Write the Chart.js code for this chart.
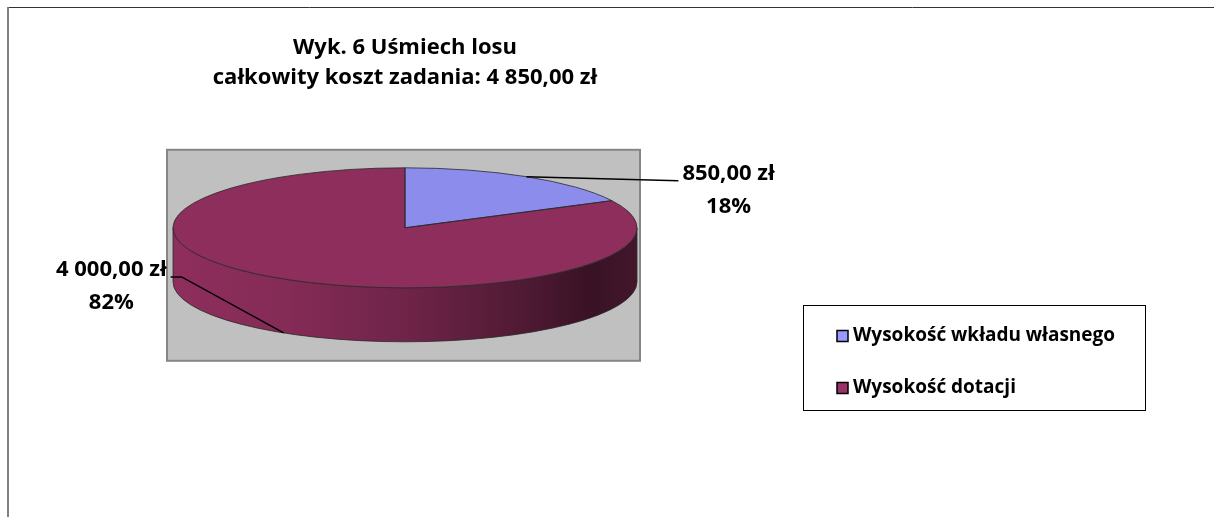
<!DOCTYPE html>
<html>
<head>
<meta charset="utf-8">
<script src="https://cdn.jsdelivr.net/npm/chart.js@4.4.1/dist/chart.umd.min.js"></script>
<style>
    html, body { margin: 0; padding: 0; background: #ffffff; }
    #wrap { width: 1214px; height: 517px; }
</style>
</head>
<body>
<div id="wrap"><canvas id="pieChart"></canvas></div>
<script>
// Data
const chartTitle = ['Wyk. 6 Uśmiech losu', 'całkowity koszt zadania: 4 850,00 zł'];
const categories = ['Wysokość wkładu własnego', 'Wysokość dotacji'];
const amounts = [850, 4000];

// Colours
const topColors = ['#8c8cec', '#8e2e5c'];
const legendColors = ['#9999ff', '#993366'];

// Look of the 3D projection and the labels
const fontFamily = '"Open Sans", "Noto Sans", sans-serif';
const pieRx = 232, pieRy = 60, pieDepth = 54;
const labelElbows = [[152, 4], [-102, -56]];
const labelTails = [0, -11];

// 4000 -> "4 000,00 zł"
const formatZl = (v) => {
    let parts = v.toFixed(2).split('.');
    let intPart = parts[0].replace(/\B(?=(\d{3})+(?!\d))/g, ' ');
    return intPart + ',' + parts[1] + ' zł';
}

const shade = (hex, f) => {
    let r = parseInt(hex.slice(1, 3), 16), g = parseInt(hex.slice(3, 5), 16), b = parseInt(hex.slice(5, 7), 16);
    return 'rgb(' + Math.round(r * f) + ',' + Math.round(g * f) + ',' + Math.round(b * f) + ')';
}

// Frame round the whole picture
const framePlugin = {
    id: 'frame',
    beforeDraw(chart) {
        const ctx = chart.ctx;
        ctx.save();
        ctx.strokeStyle = '#333333';
        ctx.lineWidth = 1;
        ctx.beginPath();
        ctx.moveTo(8, 7.5);
        ctx.lineTo(chart.width, 7.5);
        ctx.stroke();
        ctx.strokeStyle = '#808080';
        ctx.lineWidth = 2;
        ctx.beginPath();
        ctx.moveTo(8, 7);
        ctx.lineTo(8, chart.height);
        ctx.stroke();
        ctx.restore();
    }
};

// Squash the pie into an ellipse and give it a side wall
const pie3dPlugin = {
    id: 'pie3d',
    beforeDatasetsDraw(chart) {
        const ctx = chart.ctx;
        const arcs = chart.getDatasetMeta(0).data;
        const cx = arcs[0].x, cy = arcs[0].y, R = arcs[0].outerRadius;

        // Grey plot area behind the pie
        ctx.save();
        ctx.fillStyle = '#c0c0c0';
        ctx.fillRect(cx - 238, cy - 78, 473, 211);
        ctx.strokeStyle = '#868686';
        ctx.lineWidth = 2;
        ctx.strokeRect(cx - 238, cy - 78, 473, 211);
        ctx.restore();

        // Side wall, only the front half is visible
        for (let i = 0; i < arcs.length; i++) {
            let a = Math.max(arcs[i].startAngle, 0);
            let b = Math.min(arcs[i].endAngle, Math.PI);
            if (b <= a) continue;

            let base = topColors[i];
            let grad = ctx.createLinearGradient(cx - pieRx, 0, cx + pieRx, 0);
            grad.addColorStop(0, shade(base, 1.0));
            grad.addColorStop(0.25, shade(base, 0.93));
            grad.addColorStop(0.5, shade(base, 0.78));
            grad.addColorStop(0.75, shade(base, 0.56));
            grad.addColorStop(0.9, shade(base, 0.40));
            grad.addColorStop(1, shade(base, 0.47));

            ctx.save();
            ctx.beginPath();
            ctx.ellipse(cx, cy, pieRx, pieRy, 0, a, b, false);
            ctx.ellipse(cx, cy + pieDepth, pieRx, pieRy, 0, b, a, true);
            ctx.closePath();
            ctx.fillStyle = grad;
            ctx.fill();
            ctx.strokeStyle = '#2a2a2a';
            ctx.lineWidth = 0.8;
            ctx.stroke();
            ctx.restore();
        }

        // Chart.js draws the tops inside this transform
        ctx.save();
        ctx.translate(cx, cy);
        ctx.scale(pieRx / R, pieRy / R);
        ctx.translate(-cx, -cy);
    },
    afterDatasetsDraw(chart) {
        const ctx = chart.ctx;
        ctx.restore();

        const arcs = chart.getDatasetMeta(0).data;
        const cx = arcs[0].x, cy = arcs[0].y;
        const total = amounts.reduce((s, v) => s + v, 0);

        // Outlines of the tops
        ctx.save();
        ctx.strokeStyle = '#2a2a2a';
        ctx.lineWidth = 0.8;
        for (let i = 0; i < arcs.length; i++) {
            ctx.beginPath();
            ctx.moveTo(cx, cy);
            ctx.ellipse(cx, cy, pieRx, pieRy, 0, arcs[i].startAngle, arcs[i].endAngle, false);
            ctx.closePath();
            ctx.stroke();
        }
        ctx.restore();

        // Leader lines and data labels
        ctx.save();
        ctx.font = 'bold 22px ' + fontFamily;
        ctx.fillStyle = '#000000';
        ctx.textBaseline = 'middle';
        ctx.textAlign = 'center';
        for (let i = 0; i < arcs.length; i++) {
            let mid = (arcs[i].startAngle + arcs[i].endAngle) / 2;
            let px = cx + pieRx * Math.cos(mid);
            let py = cy + pieRy * Math.sin(mid);
            if (Math.sin(mid) > 0) py += pieDepth;

            let ex = px + labelElbows[i][0], ey = py + labelElbows[i][1];
            let tx = ex + labelTails[i];

            ctx.strokeStyle = '#000000';
            ctx.lineWidth = 1.5;
            ctx.beginPath();
            ctx.moveTo(px, py);
            ctx.lineTo(ex, ey);
            ctx.lineTo(tx, ey);
            ctx.stroke();

            let lines = [formatZl(amounts[i]), Math.round(amounts[i] / total * 100) + '%'];
            let w = Math.max(...lines.map(t => ctx.measureText(t).width));
            let side = Math.cos(mid) >= 0 ? 1 : -1;
            let textX = tx + side * (4 + w / 2);
            ctx.fillText(lines[0], textX, ey - 7);
            ctx.fillText(lines[1], textX, ey + 26);
        }
        ctx.restore();
    },
    afterDraw(chart) {
        // Legend box on the right
        const ctx = chart.ctx;
        ctx.save();
        ctx.strokeStyle = '#000000';
        ctx.lineWidth = 1;
        ctx.strokeRect(803.5, 305.5, 342, 105);
        ctx.font = 'bold 19px ' + fontFamily;
        ctx.textBaseline = 'middle';
        ctx.textAlign = 'left';
        for (let i = 0; i < categories.length; i++) {
            let y = 336 + i * 52;
            ctx.fillStyle = legendColors[i];
            ctx.fillRect(837, y - 5.5, 11, 11);
            ctx.strokeStyle = '#000000';
            ctx.lineWidth = 1.5;
            ctx.strokeRect(837, y - 5.5, 11, 11);
            ctx.fillStyle = '#000000';
            ctx.fillText(categories[i], 853, y);
        }
        ctx.restore();
    }
};

const createPieChart = () => {
    const ctx = document.getElementById('pieChart').getContext('2d');

    new Chart(ctx, {
        type: 'pie',
        data: {
            labels: categories,
            datasets: [{
                data: amounts,
                backgroundColor: topColors,
                borderWidth: 0,
                clip: false
            }]
        },
        options: {
            responsive: true,
            maintainAspectRatio: false,
            animation: false,
            events: [],
            layout: {
                padding: { top: 8, left: 20, right: 424, bottom: 164 }
            },
            plugins: {
                legend: { display: false },
                tooltip: { enabled: false },
                title: {
                    display: true,
                    text: chartTitle,
                    color: '#000000',
                    font: { family: fontFamily, size: 22, weight: 'bold', lineHeight: 1.4 },
                    padding: { top: 24, bottom: 9 }
                }
            }
        },
        plugins: [framePlugin, pie3dPlugin]
    });
}

createPieChart();
</script>
</body>
</html>
